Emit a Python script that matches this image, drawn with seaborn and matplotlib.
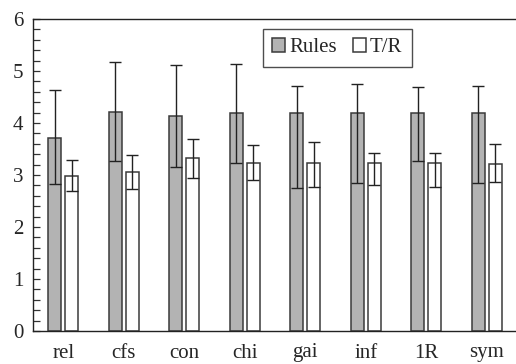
import numpy as np
import pandas as pd
import matplotlib
matplotlib.use("Agg")
import matplotlib.pyplot as plt
import seaborn as sns

# Feature-selection methods on the x axis
methods = ["rel", "cfs", "con", "chi", "gai", "inf", "1R", "sym"]
series = ["Rules", "T/R"]

# Mean values and the low/high ends of their error bars
rules_mean = [3.72, 4.21, 4.13, 4.20, 4.19, 4.20, 4.20, 4.20]
rules_low = [2.83, 3.27, 3.15, 3.24, 2.75, 2.85, 3.26, 2.85]
rules_high = [4.63, 5.17, 5.12, 5.13, 4.71, 4.75, 4.69, 4.71]

tr_mean = [2.98, 3.06, 3.32, 3.24, 3.24, 3.24, 3.24, 3.22]
tr_low = [2.69, 2.73, 2.94, 2.90, 2.77, 2.81, 2.76, 2.87]
tr_high = [3.29, 3.38, 3.69, 3.58, 3.63, 3.42, 3.43, 3.59]

y_ticks = [0, 1, 2, 3, 4, 5, 6]

df = pd.DataFrame({
    "method": methods * 2,
    "series": ["Rules"] * len(methods) + ["T/R"] * len(methods),
    "value": rules_mean + tr_mean,
})
bounds = {
    "Rules": (rules_mean, rules_low, rules_high),
    "T/R": (tr_mean, tr_low, tr_high),
}

sns.set_style("ticks")
plt.rcParams["font.family"] = ["Liberation Serif", "DejaVu Serif"]
plt.rcParams["font.size"] = 15

fig = plt.figure(figsize=(5.16, 3.64), dpi=100)
ax = fig.add_axes([33 / 516, 33 / 364, 484 / 516, 312 / 364])

edge = "#3a3a3a"
sns.barplot(
    data=df, x="method", y="value", hue="series", order=methods,
    hue_order=series, palette={"Rules": "#b3b3b3", "T/R": "#ffffff"},
    width=0.56, gap=0.23, errorbar=None, edgecolor=edge, linewidth=1.1,
    saturation=1, ax=ax,
)

# Asymmetric error bars on top of each bar
for container, name in zip(ax.containers, series):
    mean, low, high = (np.asarray(a) for a in bounds[name])
    xs = [p.get_x() + p.get_width() / 2 for p in container.patches]
    ax.errorbar(
        xs, mean, yerr=[mean - low, high - mean], fmt="none",
        ecolor="#222222", elinewidth=1.0, capsize=4.0, capthick=1.0,
        zorder=5,
    )

ax.set_xlim(-0.5, len(methods) - 0.5)
ax.set_ylim(0, 6)
ax.set_yticks(y_ticks)
ax.yaxis.set_minor_locator(matplotlib.ticker.MultipleLocator(0.2))
ax.tick_params(axis="y", which="both", direction="in", length=5,
               width=0.9, color="#333333", pad=7, labelsize=15)
ax.tick_params(axis="x", length=0, pad=9, labelsize=15)
ax.set_xlabel("")
ax.set_ylabel("")

for side in ["left", "bottom", "top"]:
    ax.spines[side].set_visible(True)
    ax.spines[side].set_color("#222222")
    ax.spines[side].set_linewidth(1.0)
ax.spines["right"].set_visible(False)

handles, labels = ax.get_legend_handles_labels()
leg = ax.legend(
    handles, labels, ncol=2, loc="upper center",
    bbox_to_anchor=(0.629, 0.968), borderaxespad=0,
    frameon=True, fancybox=False, edgecolor="#222222",
    handlelength=0.6, handleheight=0.6, handletextpad=0.2,
    columnspacing=0.8, borderpad=0.45, fontsize=15,
)
leg.get_frame().set_linewidth(1.0)

fig.savefig("out.png", dpi=100)
